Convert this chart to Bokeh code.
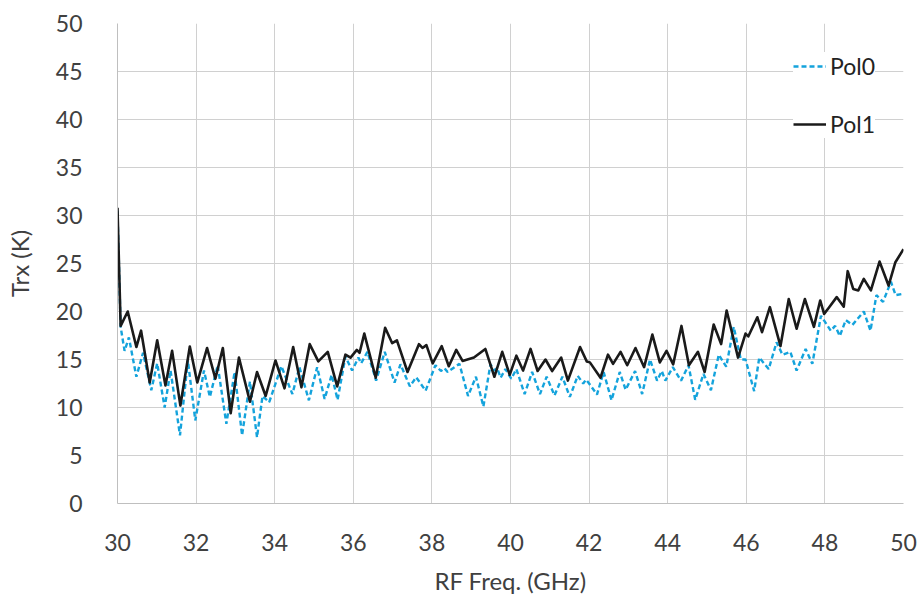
from bokeh.plotting import figure
from bokeh.models import Range1d, FixedTicker, Legend, LegendItem
from bokeh.embed import file_html
from bokeh.resources import INLINE

# Pol1 (black, solid): frequency in GHz, Trx in K
pol1_freq = [30.00, 30.08, 30.26, 30.48, 30.60, 30.82, 31.01, 31.22, 31.39, 31.60,
             31.84, 32.03, 32.28, 32.49, 32.68, 32.88, 33.09, 33.37, 33.55, 33.77,
             34.02, 34.25, 34.47, 34.68, 34.89, 35.11, 35.35, 35.59, 35.80, 35.93,
             36.09, 36.16, 36.28, 36.57, 36.81, 36.99, 37.11, 37.38, 37.67, 37.76,
             37.86, 38.02, 38.25, 38.43, 38.62, 38.78, 39.07, 39.36, 39.59, 39.79,
             39.98, 40.15, 40.32, 40.51, 40.69, 40.89, 41.06, 41.29, 41.46, 41.77,
             41.94, 42.02, 42.29, 42.48, 42.61, 42.80, 42.97, 43.18, 43.40, 43.61,
             43.80, 43.97, 44.14, 44.35, 44.54, 44.77, 44.94, 45.17, 45.36, 45.50,
             45.79, 45.98, 46.05, 46.28, 46.40, 46.60, 46.87, 47.08, 47.28, 47.49,
             47.72, 47.88, 47.98, 48.10, 48.30, 48.48, 48.58, 48.72, 48.85, 48.99,
             49.17, 49.39, 49.62, 49.79, 50.00]
pol1_trx = [30.8, 18.5, 20.0, 16.3, 18.0, 12.6, 17.0, 12.3, 15.9, 10.2,
            16.35, 12.6, 16.2, 13.0, 16.2, 9.4, 15.2, 10.6, 13.7, 11.2,
            14.9, 12.0, 16.3, 12.1, 16.6, 14.8, 15.8, 12.2, 15.5, 15.2,
            16.0, 15.7, 17.7, 13.1, 18.3, 16.7, 17.0, 13.7, 16.6, 16.2,
            16.5, 14.6, 16.4, 14.3, 16.0, 14.85, 15.2, 16.1, 13.2, 15.8,
            13.4, 15.4, 13.85, 16.1, 13.8, 15.0, 13.8, 15.2, 12.8, 16.3,
            14.8, 14.7, 13.1, 15.5, 14.55, 15.8, 14.4, 16.2, 14.2, 17.6,
            14.7, 15.9, 14.5, 18.5, 14.4, 15.8, 13.7, 18.65, 16.6, 20.1,
            15.2, 17.7, 17.4, 19.4, 17.85, 20.45, 16.4, 21.3, 18.2, 21.3,
            18.4, 21.15, 19.75, 20.4, 21.5, 20.5, 24.2, 22.35, 22.2, 23.4,
            22.2, 25.2, 22.7, 25.1, 26.5]

# Pol0 (blue, dashed)
pol0_freq = [30.00, 30.08, 30.18, 30.29, 30.48, 30.65, 30.86, 31.01, 31.20, 31.35,
             31.59, 31.79, 31.98, 32.20, 32.35, 32.55, 32.77, 32.98, 33.17, 33.37,
             33.55, 33.69, 33.86, 34.17, 34.45, 34.63, 34.87, 35.08, 35.27, 35.45,
             35.60, 35.80, 35.97, 36.13, 36.20, 36.36, 36.58, 36.80, 37.05, 37.20,
             37.44, 37.60, 37.84, 38.09, 38.23, 38.32, 38.40, 38.70, 38.92, 39.12,
             39.31, 39.49, 39.59, 39.66, 39.75, 39.87, 40.02, 40.15, 40.36, 40.55,
             40.75, 40.92, 41.12, 41.32, 41.51, 41.71, 41.85, 41.92, 42.00, 42.20,
             42.37, 42.57, 42.78, 42.93, 43.17, 43.35, 43.55, 43.73, 43.85, 43.94,
             44.13, 44.34, 44.53, 44.70, 44.91, 45.10, 45.30, 45.49, 45.68, 45.86,
             45.98, 46.20, 46.33, 46.57, 46.77, 46.92, 47.12, 47.28, 47.51, 47.68,
             47.90, 48.15, 48.26, 48.38, 48.53, 48.70, 48.99, 49.16, 49.31, 49.48,
             49.68, 49.80, 50.00]
pol0_trx = [30.5, 18.4, 15.9, 17.3, 13.2, 15.7, 11.8, 14.6, 10.0, 13.85,
            7.1, 14.9, 8.65, 13.85, 11.1, 14.4, 8.3, 13.7, 7.1, 12.7,
            6.9, 11.2, 10.55, 14.3, 11.4, 14.2, 10.75, 14.2, 10.9, 13.4,
            10.8, 15.3, 13.85, 15.2, 14.6, 15.8, 12.8, 15.8, 12.6, 14.5,
            12.2, 13.15, 11.75, 14.4, 13.8, 14.1, 13.7, 14.55, 11.2, 13.2,
            10.1, 14.5, 13.85, 14.1, 13.1, 14.0, 13.0, 14.0, 11.4, 13.7,
            11.4, 13.2, 11.25, 13.2, 11.1, 13.3, 12.5, 12.9, 12.5, 11.35,
            13.7, 10.75, 13.7, 11.85, 13.8, 11.4, 15.0, 12.8, 13.8, 12.8,
            14.2, 12.8, 14.4, 10.8, 13.5, 11.8, 15.5, 14.25, 18.4, 15.0,
            15.0, 11.7, 15.2, 14.0, 16.8, 15.5, 15.8, 13.85, 16.1, 14.55,
            19.55, 18.0, 18.5, 17.45, 19.1, 18.6, 20.0, 18.0, 21.7, 21.0,
            23.1, 21.7, 21.85]

x_ticks = [30, 32, 34, 36, 38, 40, 42, 44, 46, 48, 50]
y_ticks = [0, 5, 10, 15, 20, 25, 30, 35, 40, 45, 50]

FONT = "Lato"
TXT = "#404040"
GRID = "#d0d0d0"

p = figure(width=918, height=598, output_backend="svg", toolbar_location=None,
           x_range=Range1d(30, 50), y_range=Range1d(0, 50),
           min_border_left=117, min_border_right=15, min_border_top=23,
           min_border_bottom=95)
p.outline_line_color = None
p.background_fill_color = "white"

r0 = p.line(pol0_freq, pol0_trx, line_color="#14a3dc", line_width=2.4,
            line_dash="5 3")
r1 = p.line(pol1_freq, pol1_trx, line_color="#1a1a1a", line_width=2.6,
            line_join="round")

p.xaxis.ticker = FixedTicker(ticks=x_ticks)
p.yaxis.ticker = FixedTicker(ticks=y_ticks)
for ax in (p.xaxis[0], p.yaxis[0]):
    ax.major_tick_line_color = None
    ax.minor_tick_line_color = None
    ax.axis_line_color = "#bfbfbf"
    ax.major_label_text_font = FONT
    ax.major_label_text_font_size = "23px"
    ax.major_label_text_color = TXT
    ax.axis_label_text_font = FONT
    ax.axis_label_text_font_size = "24px"
    ax.axis_label_text_font_style = "normal"
    ax.axis_label_text_color = TXT

p.xaxis.axis_label = "RF Freq. (GHz)"
p.yaxis.axis_label = "Trx (K)"
p.xaxis.major_label_standoff = 24
p.yaxis.major_label_standoff = 29
p.xaxis.axis_label_standoff = 12
p.yaxis.axis_label_standoff = 19

p.xgrid.grid_line_color = GRID
p.ygrid.grid_line_color = GRID
p.xgrid.ticker = FixedTicker(ticks=x_ticks)
p.ygrid.ticker = FixedTicker(ticks=y_ticks)

legend = Legend(items=[LegendItem(label="Pol0", renderers=[r0]),
                       LegendItem(label="Pol1", renderers=[r1])],
                location=(676, 365))
legend.padding = 20
legend.spacing = 30
legend.glyph_width = 33
legend.glyph_height = 20
legend.label_height = 20
legend.label_standoff = 4
legend.label_text_font = FONT
legend.label_text_font_size = "23px"
legend.label_text_color = "#222222"
legend.border_line_color = None
legend.background_fill_color = "white"
legend.background_fill_alpha = 1.0
legend.margin = 0
p.add_layout(legend, "center")

open("out.html", "w").write(file_html(p, INLINE))
